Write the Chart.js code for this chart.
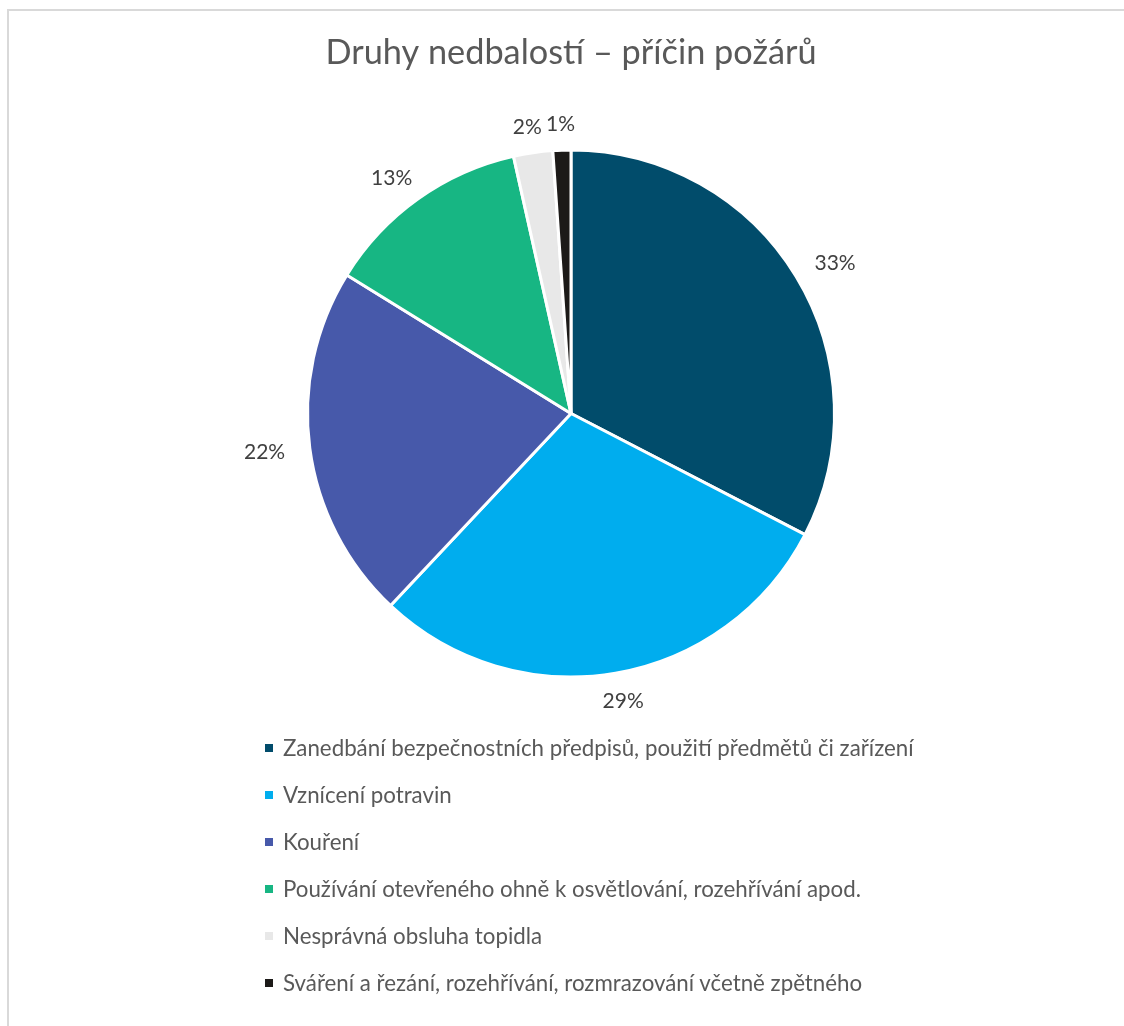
<!DOCTYPE html>
<html>
<head>
<meta charset="utf-8">
<script src="https://cdn.jsdelivr.net/npm/chart.js@4.4.1/dist/chart.umd.min.js"></script>
<style>
  html, body { margin: 0; padding: 0; background: #fff; overflow: hidden; }
  #wrap { position: relative; width: 1124px; height: 1026px; }
  #frame {
    position: absolute; left: 7px; top: 9px; width: 1200px; height: 1100px;
    border: 2px solid #d9d9d9; box-sizing: border-box;
  }
  #chartBox { position: absolute; left: 0; top: 0; width: 1124px; height: 1026px; }
  #legend {
    position: absolute; left: 265px; top: 734px; margin: 0; padding: 0; list-style: none;
    font-family: Lato, "Open Sans", sans-serif; font-size: 22.3px; color: #595959;
  }
  #legend li { height: 47px; display: flex; align-items: flex-start; white-space: nowrap; }
  #legend .box { width: 8px; height: 8px; margin: 10px 10px 0 0; flex: none; }
</style>
</head>
<body>
<div id="wrap">
  <div id="frame"></div>
  <div id="chartBox"><canvas id="pieChart"></canvas></div>
  <ul id="legend"></ul>
</div>
<script>
// Data
const categories = [
  'Zanedbání bezpečnostních předpisů, použití předmětů či zařízení',
  'Vznícení potravin',
  'Kouření',
  'Používání otevřeného ohně k osvětlování, rozehřívání apod.',
  'Nesprávná obsluha topidla',
  'Sváření a řezání, rozehřívání, rozmrazování včetně zpětného'
];
const shares = [32.6, 29.4, 21.8, 12.7, 2.4, 1.1];
const sliceColors = ['#014c6b', '#00adee', '#4759aa', '#17b683', '#e8e8e8', '#1c1a18'];

const titleText = 'Druhy nedbalostí – příčin požárů';

// popisky procent mimo výseče
const outsideLabels = {
  id: 'outsideLabels',
  afterDatasetsDraw(chart) {
    const ctx = chart.ctx;
    const meta = chart.getDatasetMeta(0);
    const data = chart.data.datasets[0].data;
    const total = data.reduce((a, b) => a + b, 0);
    ctx.save();
    ctx.font = '21px Lato, "Open Sans", sans-serif';
    ctx.fillStyle = '#404040';
    ctx.textAlign = 'center';
    ctx.textBaseline = 'middle';
    meta.data.forEach((arc, i) => {
      const p = arc.getProps(['x', 'y', 'startAngle', 'endAngle', 'outerRadius'], true);
      const mid = (p.startAngle + p.endAngle) / 2;
      const txt = Math.round(data[i] / total * 100) + '%';
      const hw = ctx.measureText(txt).width / 2 + 6;
      const hh = 8;
      const gap = 19;
      const cx = p.x + Math.cos(mid) * (p.outerRadius + gap) + Math.cos(mid) * hw;
      const cy = p.y + Math.sin(mid) * (p.outerRadius + gap) + Math.sin(mid) * hh;
      ctx.fillText(txt, cx, cy + 1);
    });
    ctx.restore();
  }
};

const ctx = document.getElementById('pieChart').getContext('2d');
const pieChart = new Chart(ctx, {
  type: 'pie',
  data: {
    labels: categories,
    datasets: [{
      data: shares,
      backgroundColor: sliceColors,
      borderColor: '#ffffff',
      borderWidth: 3
    }]
  },
  options: {
    responsive: true,
    maintainAspectRatio: false,
    animation: false,
    layout: { padding: { top: 8, left: 306, right: 288, bottom: 347 } },
    plugins: {
      legend: { display: false },
      tooltip: { enabled: false },
      title: {
        display: true,
        text: titleText,
        color: '#595959',
        font: { family: 'Lato, "Open Sans", sans-serif', size: 34.3, weight: 'normal' },
        padding: { top: 24, bottom: 74.8 }
      }
    }
  },
  plugins: [outsideLabels]
});

// legenda pod grafem
const legendEl = document.getElementById('legend');
categories.forEach((name, i) => {
  const li = document.createElement('li');
  li.innerHTML = `<span class="box" style="background:${sliceColors[i]}"></span><span>${name}</span>`;
  legendEl.appendChild(li);
});
</script>
</body>
</html>
